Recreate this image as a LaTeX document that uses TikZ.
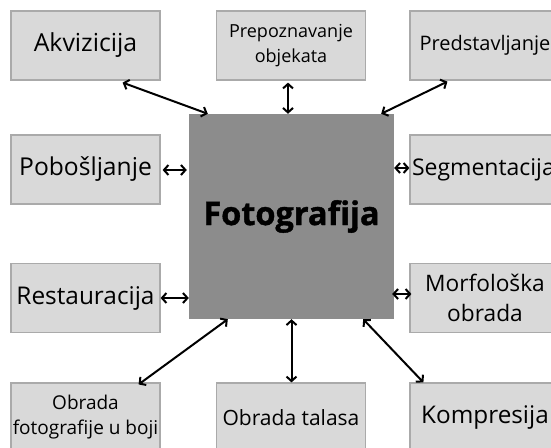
\documentclass[tikz,border=0pt]{standalone}
\usepackage{fontspec}
\setmainfont{Open Sans}
\newfontfamily\heavyfont{Open Sans}[BoldFeatures={FakeBold=1.2}]
\usetikzlibrary{arrows.meta}
\definecolor{boxfill}{HTML}{D9D9D9}
\definecolor{boxborder}{HTML}{AAAAAA}
\definecolor{centerfill}{HTML}{8C8C8C}
\begin{document}
\begin{tikzpicture}[x=1pt,y=-1pt,
  box/.style={draw=boxborder, fill=boxfill, line width=1.2pt, minimum width=149pt, minimum height=69pt, inner sep=0pt, align=center, text=black},
  link/.style={line width=2pt, {Straight Barb[length=4.5pt,width=10pt]}-{Straight Barb[length=4.5pt,width=10pt]}}
]
\useasboundingbox (0,0) rectangle (551,447);
\clip (0,0) rectangle (551,447);
\fill[white] (0,0) rectangle (551,447);
\node[fill=centerfill, minimum width=205pt, minimum height=205pt, inner sep=0pt, font={\fontsize{32.5}{38}\heavyfont\bfseries}] (foto) at (291.5,216.5) {Fotografija};
\node[box, font={\fontsize{24.8}{30}\selectfont}] (akv) at (85.5,45.5) {Akvizicija};
\node[box, font={\fontsize{18}{25}\selectfont}] (prep) at (291,45.5) {Prepoznavanje\\ objekata};
\node[box, minimum width=150pt, font={\fontsize{20}{25}\selectfont}] (pred) at (485,45.5) {Predstavljanje};
\node[box, font={\fontsize{24.6}{30}\selectfont}] (pob) at (85.5,169.5) {Pobošljanje};
\node[box, text width=146pt, align=left, inner xsep=2pt, font={\fontsize{23}{30}\selectfont}] (seg) at (485,169.5) {Segmentacija};
\node[box, font={\fontsize{24.4}{30}\selectfont}] (res) at (85.5,298) {Restauracija};
\node[box, minimum width=150pt, font={\fontsize{22.7}{30}\selectfont}] (mor) at (485,298) {Morfološka\\ obrada};
\node[box, font={\fontsize{19}{25}\selectfont}] (obf) at (85.5,417.5) {Obrada\\ fotografije u boji};
\node[box, font={\fontsize{21}{25}\selectfont}] (obt) at (291,417.5) {Obrada talasa};
\node[box, minimum width=150pt, font={\fontsize{24.3}{30}\selectfont}] (kom) at (485,417.5) {Kompresija};

\draw[link] ([xshift=-38pt,yshift=-2pt]akv.south east) -- ([xshift=19pt]foto.north west);
\draw[link] ([xshift=-3pt,yshift=-2pt]prep.south) -- ([xshift=-3.5pt]foto.north);
\draw[link] ([xshift=38pt,yshift=-1pt]pred.south west) -- ([xshift=-13pt]foto.north east);
\draw[link] ([xshift=2pt,yshift=-0.5pt]pob.east) -- ([xshift=-2pt,yshift=-0.5pt]pob.east -| foto.west);
\draw[link] ([yshift=1.5pt]foto.east |- seg.west) -- ([yshift=1.5pt]seg.west);
\draw[link] (res.east) -- (res.east -| foto.west);
\draw[link] ([xshift=-2pt,yshift=4pt]foto.east |- mor.west) -- ([xshift=2pt,yshift=4pt]mor.west);
\draw[link] ([xshift=39pt]foto.south west) -- ([xshift=-22pt,yshift=-2pt]obf.north east);
\draw[link] (foto.south) -- (foto.south |- obt.north);
\draw[link] ([xshift=-31pt]foto.south east) -- ([xshift=14pt]kom.north west);
\end{tikzpicture}
\end{document}
